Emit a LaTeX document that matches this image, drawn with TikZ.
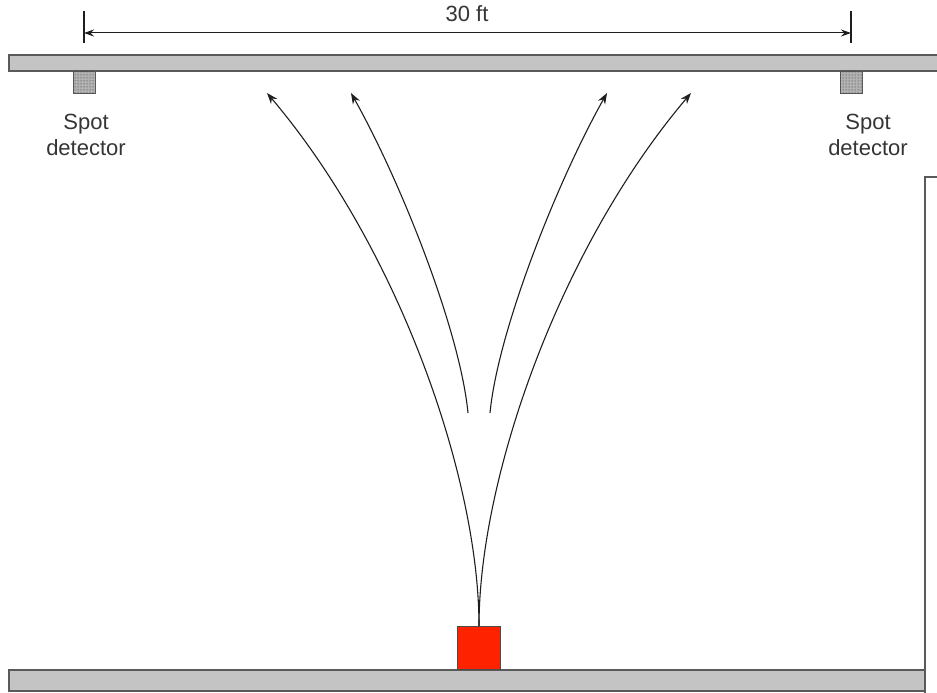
\documentclass[tikz,border=0pt]{standalone}
\usepackage{fontspec}
\setmainfont{Liberation Sans}
\usetikzlibrary{arrows.meta,patterns}
\definecolor{slab}{RGB}{196,196,196}
\definecolor{slabedge}{RGB}{90,90,90}
\definecolor{srcred}{RGB}{255,34,0}
\definecolor{ink}{RGB}{30,30,30}
\tikzset{
  slabbox/.style={fill=slab, draw=slabedge, line width=1.6pt},
  detbox/.style={fill=gray!60, draw=slabedge, line width=0.8pt, minimum width=22pt, minimum height=22pt, inner sep=0pt, outer sep=0pt},
  lbl/.style={font=\fontsize{22}{26}\selectfont, text=ink!90, align=center, inner sep=0pt},
  flow/.style={draw=ink, line width=1.1pt, -{Stealth[length=11pt,width=8pt]}},
  dim/.style={draw=ink, line width=1pt, {Stealth[length=10pt,width=7pt]}-{Stealth[length=10pt,width=7pt]}},
  tick/.style={draw=ink, line width=1.1pt},
  wall/.style={draw=slabedge, line width=1.8pt}
}
\begin{document}
\begin{tikzpicture}[x=1pt,y=-1pt]
\useasboundingbox (0,0) rectangle (937,693);
% ceiling and floor
\path[slabbox] (9,55) rectangle (945,71);
\path[slabbox] (9,670) rectangle (925,691);
% right wall
\draw[wall] (937,177) -- (925,177) -- (925,700);
% detectors
\node[detbox, anchor=north] (detL) at (84,71) {};
\node[detbox, anchor=north] (detR) at (851,71) {};
\path[pattern=dots, pattern color=gray!30!black] (detL.south west) rectangle (detL.north east);
\path[pattern=dots, pattern color=gray!30!black] (detR.south west) rectangle (detR.north east);
\node[lbl] (labL) at (86,135) {Spot\\detector};
\node[lbl] (labR) at (868,135) {Spot\\detector};
% dimension
\coordinate (tL1) at (84,11); \coordinate (tL2) at (84,43);
\coordinate (tR1) at (851,11); \coordinate (tR2) at (851,43);
\draw[tick] (tL1) -- (tL2);
\draw[tick] (tR1) -- (tR2);
\coordinate (dL) at (84,33); \coordinate (dR) at (851,33);
\draw[dim] (dL) -- (dR);
\node[lbl] (dimtxt) at (467,14) {30 ft};
% source
\node[fill=srcred, draw=black!70, line width=1pt, minimum width=43pt, minimum height=43pt, inner sep=0pt, anchor=south] (src) at (479,670) {};
% flow ends
\coordinate (eOL) at (267,93);
\coordinate (eIL) at (351,93);
\coordinate (eIR) at (607,93);
\coordinate (eOR) at (691,93);
\coordinate (sIL) at (468,413);
\coordinate (sIR) at (490,413);
\draw[flow] (src.north) .. controls (479,480) and (400,250) .. (eOL);
\draw[flow] (src.north) .. controls (479,480) and (558,250) .. (eOR);
\draw[flow] (sIL) .. controls (460,330) and (400,180) .. (eIL);
\draw[flow] (sIR) .. controls (498,330) and (558,180) .. (eIR);
\end{tikzpicture}
\end{document}
